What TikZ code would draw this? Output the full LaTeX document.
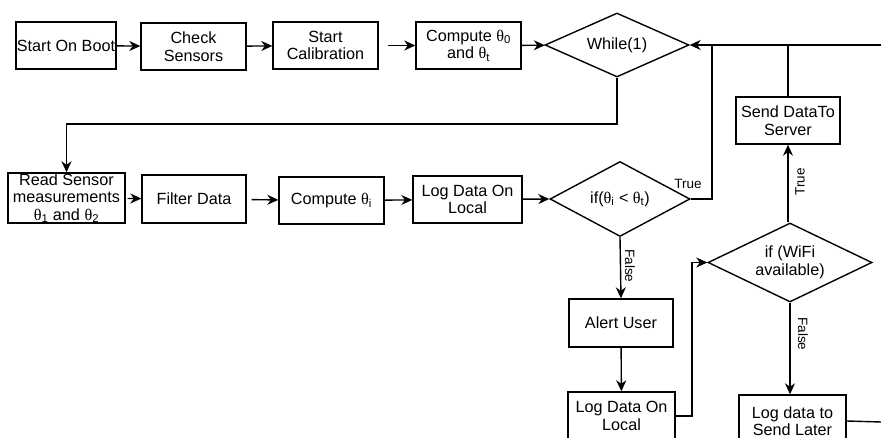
\documentclass[tikz,border=0pt]{standalone}
\usepackage{fontspec}
\setmainfont{Liberation Sans}
\newfontfamily\grkfont{Liberation Serif}
\newcommand{\thet}[1]{{\grkfont θ}\textsubscript{#1}}
\usetikzlibrary{shapes.geometric,arrows.meta}

\begin{document}
\begin{tikzpicture}[x=1pt,y=-1pt]
\tikzset{box/.style={draw, line width=1.4pt, align=center, inner sep=0pt,
		font=\fontsize{16.2}{17.5}\selectfont},
	decision/.style={draw, diamond, line width=1.4pt, align=center, inner sep=0pt,
		aspect=2, font=\fontsize{16.2}{17.5}\selectfont},
	flow/.style={line width=1.4pt, -{Stealth[length=11pt,width=10pt,inset=3.5pt]}},
	wire/.style={line width=1.4pt},
	tag/.style={font=\fontsize{13.5}{15}\selectfont, inner sep=0pt}}
	\useasboundingbox (0,0) rectangle (881,438);
	\clip (0,0) rectangle (881,438);
	% top row
	\node[box, minimum width=100, minimum height=47] (boot) at (66,45.5) {Start On Boot};
	\node[box, minimum width=105, minimum height=47] (check) at (193.5,46.5) {Check\\Sensors};
	\node[box, minimum width=105, minimum height=47] (calib) at (325.5,45.5) {Start\\Calibration};
	\node[box, minimum width=105, minimum height=47] (compzero) at (468.5,45.5) {Compute \thet{0}\\and \thet{t}};
	\node[decision, minimum width=144, minimum height=64] (loop) at (617,45) {While(1)};
	% second row
	\node[box, minimum width=117, minimum height=50] (read) at (66.5,198) {Read Sensor\\measurements\\\thet{1} and \thet{2}};
	\node[box, minimum width=104, minimum height=48] (filter) at (194,199) {Filter Data};
	\node[box, minimum width=105, minimum height=47] (compi) at (331.5,200.5) {Compute \thet{i}};
	\node[box, minimum width=109, minimum height=47] (logone) at (467.5,199.5) {Log Data On\\Local};
	\node[decision, minimum width=140, minimum height=75] (check_th) at (620,199) {if(\thet{i} < \thet{t})};
	% lower part
	\node[box, minimum width=104, minimum height=48] (alert) at (621,323) {Alert User};
	\node[box, minimum width=107, minimum height=48] (logtwo) at (621.5,416) {Log Data On\\Local};
	\node[decision, minimum width=164, minimum height=79] (wifi) at (790,262.5) {if (WiFi\\available)};
	\node[box, minimum width=104, minimum height=47] (send) at (788,120.5) {Send DataTo\\Server};
	\node[box, minimum width=107, minimum height=52] (later) at (792.5,421) {Log data to\\Send Later};
	\coordinate (inright) at (881,45);
	\coordinate (outright) at (881,422);

	\draw[flow] (boot) -- (check);
	\draw[flow] (check) -- (calib);
	\draw[flow, shorten <=9pt] (calib) -- (compzero);
	\draw[flow] (compzero) -- (loop);
	\draw[flow] (inright) -- (loop.east);
	\draw[flow] (loop.south) -- (617,124) -| (read.north);
	\draw[flow, shorten <=2pt] (read) -- (filter);
	\draw[flow, shorten <=5pt] (filter) -- (compi);
	\draw[flow] (compi) -- (logone);
	\draw[flow] (logone) -- (check_th.west);
	\draw[wire] (check_th.east) -- (712,199) -- (712,45);
	\node[tag] at (688,184) {True};
	\draw[flow] (check_th.south) -- (alert.north);
	\node[tag, rotate=-90] at (630,266) {False};
	\draw[flow] (alert) -- (logtwo);
	\draw[flow] (logtwo.east) -- (692,416) |- (wifi.west);
	\draw[flow] (wifi.north -| send.south) -- (send.south);
	\node[tag, rotate=90] at (800,182) {True};
	\draw[wire] (send.north) -- (send.north |- inright);
	\draw[flow] (wifi.south) -- (wifi.south |- later.north);
	\node[tag, rotate=-90] at (803,334) {False};
	\draw[wire] (later.east) -- (outright);
\end{tikzpicture}
\end{document}
